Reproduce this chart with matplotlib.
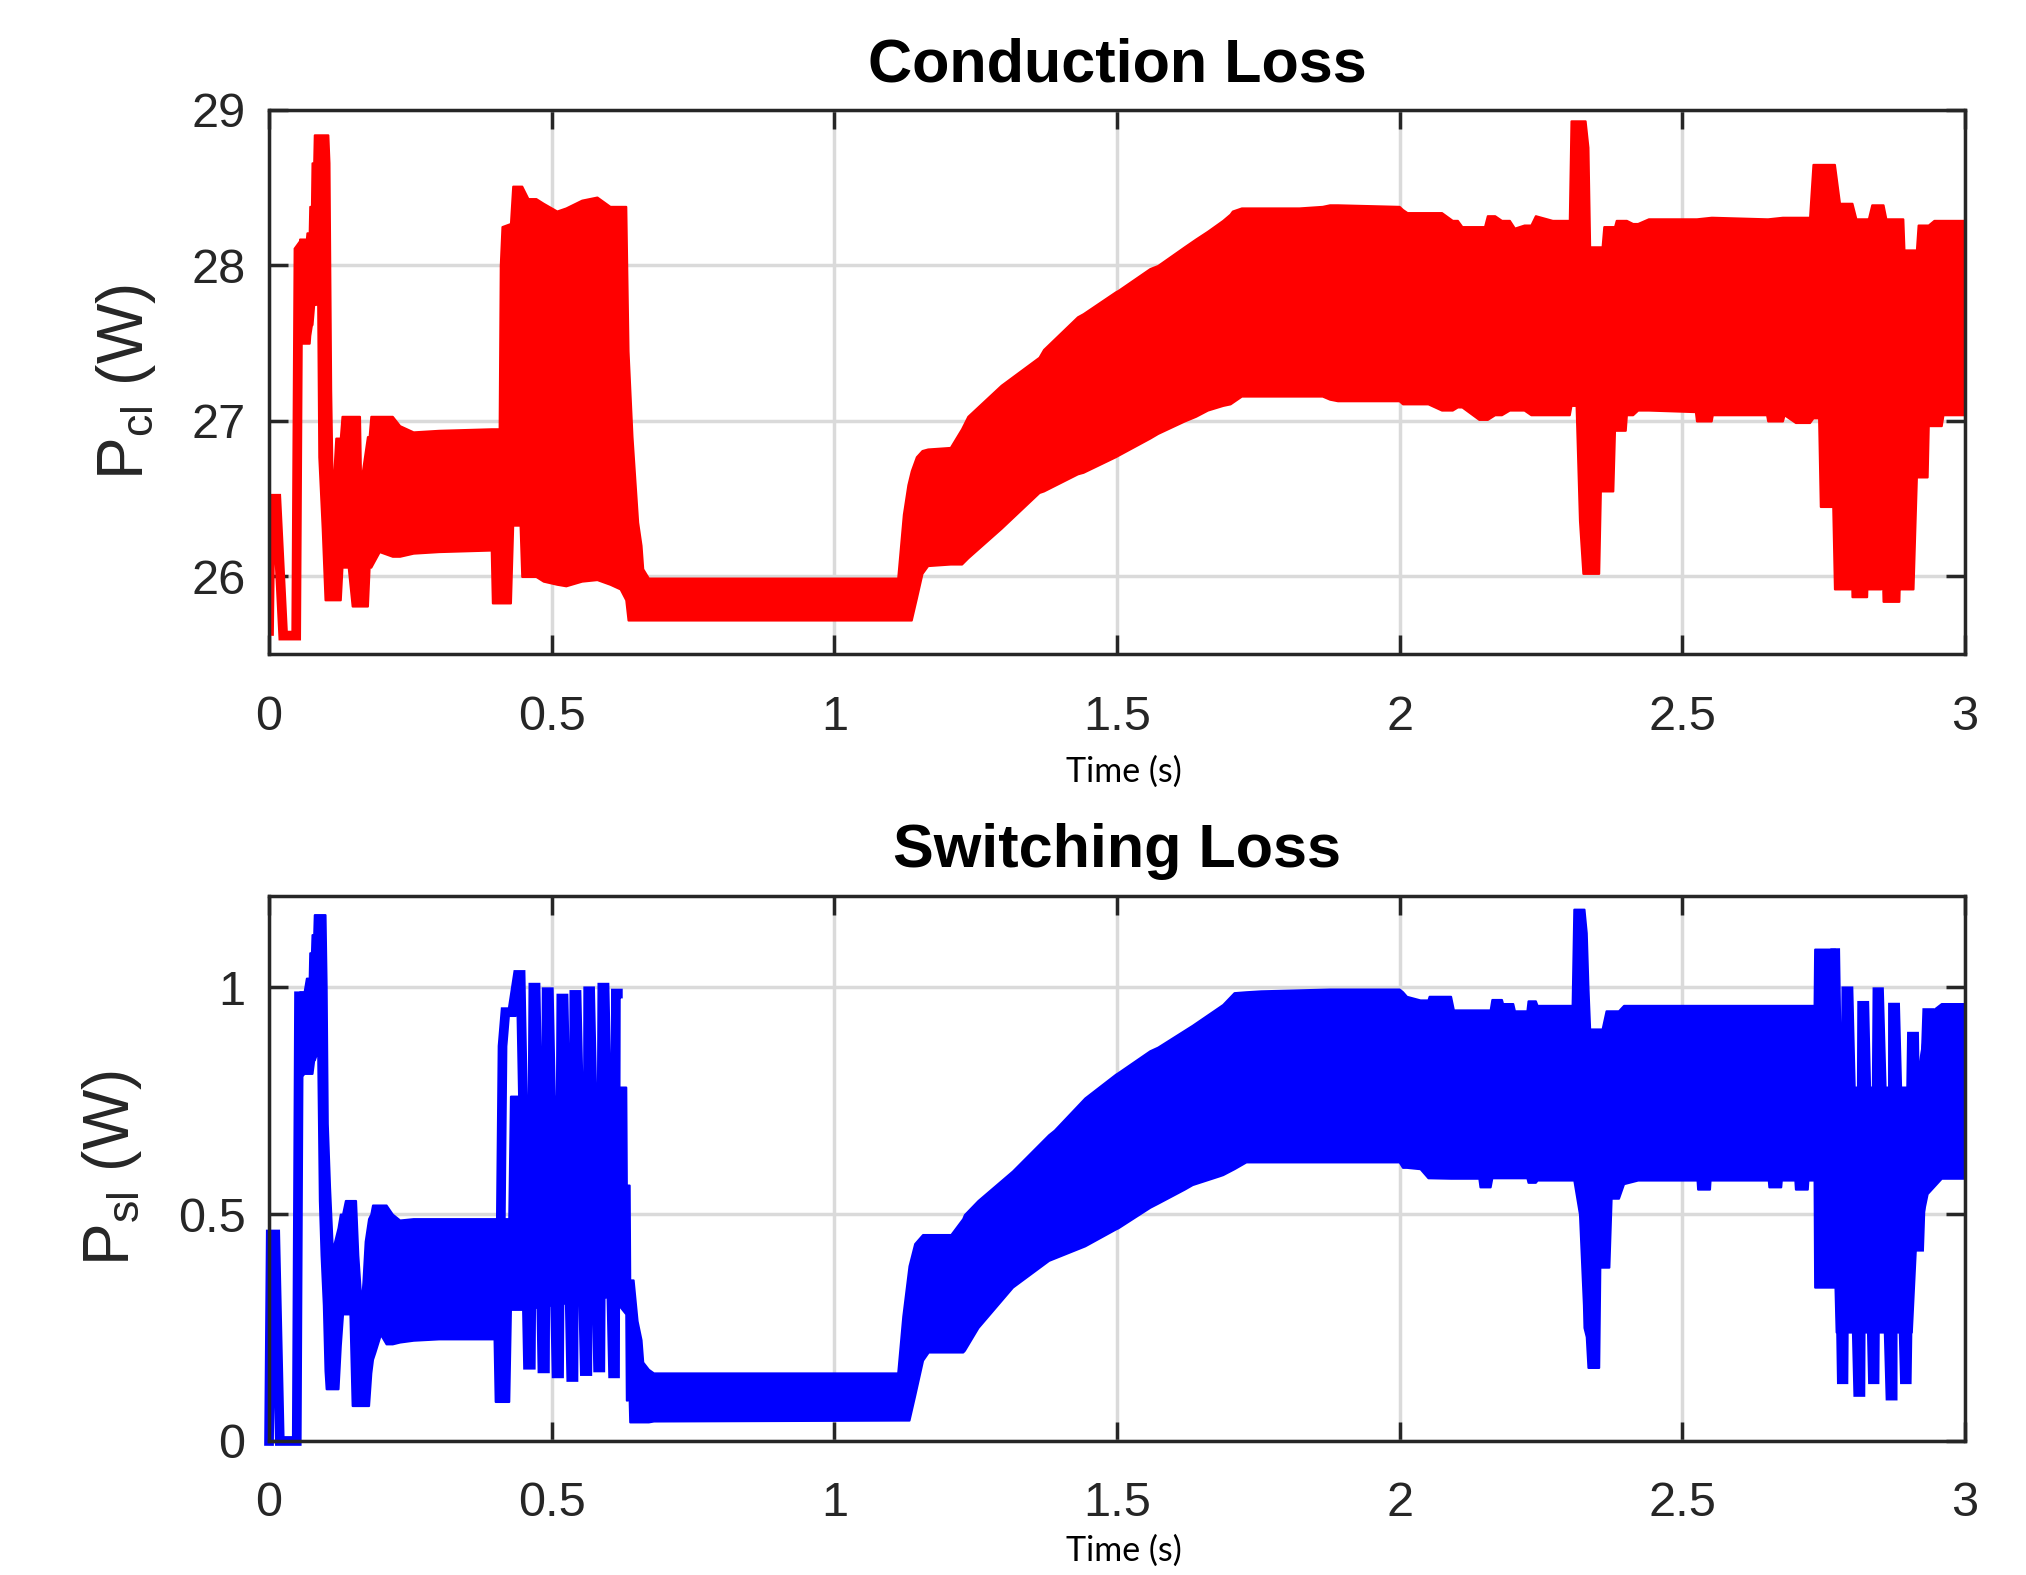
import matplotlib
matplotlib.use('Agg')
import matplotlib.pyplot as plt
import matplotlib.ticker as ticker

plt.rcParams['font.family'] = ['Liberation Sans', 'DejaVu Sans']
plt.rcParams['mathtext.default'] = 'regular'

# ---- conduction loss (top) ----
# start-up stroke, read as line centres
cl_line_t = [0.0, 0.003, 0.013, 0.025, 0.048, 0.052, 0.056]
cl_line_v = [25.65, 26.5, 26.5, 25.62, 25.62, 28.1, 28.12]

# ripple envelope, read as outer edges
cl_band_t = [0.054, 0.066, 0.067, 0.071, 0.072, 0.075, 0.076, 0.079, 0.080, 0.086,
             0.088, 0.094, 0.099, 0.104, 0.106, 0.109, 0.112, 0.118, 0.126, 0.129,
             0.140, 0.147, 0.160, 0.162, 0.170, 0.174, 0.177, 0.180, 0.195, 0.218,
             0.231, 0.255, 0.300, 0.393, 0.395, 0.407, 0.409, 0.412, 0.427, 0.431,
             0.444, 0.447, 0.458, 0.472, 0.485, 0.509, 0.525, 0.553, 0.580, 0.603,
             0.621, 0.631, 0.635, 0.642, 0.652, 0.658, 0.661, 0.671, 1.112, 1.122,
             1.130, 1.136, 1.145, 1.155, 1.165, 1.205, 1.225, 1.236, 1.295, 1.362,
             1.370, 1.430, 1.440, 1.497, 1.502, 1.558, 1.572, 1.619, 1.639, 1.660,
             1.687, 1.700, 1.704, 1.720, 1.822, 1.863, 1.876, 1.890, 1.999, 2.005,
             2.013, 2.050, 2.074, 2.093, 2.102, 2.110, 2.140, 2.150, 2.155, 2.168,
             2.180, 2.194, 2.203, 2.220, 2.232, 2.240, 2.270, 2.300, 2.303, 2.312,
             2.318, 2.324, 2.328, 2.333, 2.336, 2.352, 2.355, 2.358, 2.361, 2.377,
             2.380, 2.383, 2.399, 2.401, 2.412, 2.421, 2.440, 2.523, 2.525, 2.551,
             2.553, 2.649, 2.651, 2.677, 2.680, 2.700, 2.725, 2.731, 2.741, 2.744,
             2.766, 2.769, 2.778, 2.797, 2.799, 2.800, 2.807, 2.826, 2.828, 2.829,
             2.835, 2.851, 2.853, 2.855, 2.860, 2.883, 2.885, 2.886, 2.890, 2.892,
             2.908, 2.914, 2.917, 2.933, 2.935, 2.945, 2.958, 2.961, 3.000]
cl_band_lo = [27.50, 27.50, 27.50, 27.50, 27.55, 27.62, 27.62, 27.75, 27.75, 27.75,
              26.77, 26.31, 25.85, 25.85, 25.85, 25.85, 25.85, 25.85, 25.85, 26.06,
              26.06, 25.81, 25.81, 25.81, 25.81, 25.81, 26.06, 26.06, 26.16, 26.13,
              26.13, 26.15, 26.16, 26.17, 25.83, 25.83, 25.83, 25.83, 25.83, 26.33,
              26.33, 26.00, 26.00, 26.00, 25.97, 25.95, 25.94, 25.97, 25.98, 25.95,
              25.92, 25.85, 25.72, 25.72, 25.72, 25.72, 25.72, 25.72, 25.72, 25.72,
              25.72, 25.72, 25.86, 26.02, 26.07, 26.08, 26.08, 26.12, 26.31, 26.54,
              26.55, 26.66, 26.67, 26.77, 26.78, 26.89, 26.92, 27.00, 27.03, 27.07,
              27.10, 27.11, 27.12, 27.16, 27.16, 27.16, 27.14, 27.13, 27.13, 27.11,
              27.11, 27.11, 27.07, 27.07, 27.09, 27.09, 27.01, 27.01, 27.01, 27.04,
              27.04, 27.07, 27.07, 27.07, 27.04, 27.04, 27.04, 27.04, 27.10, 27.10,
              26.36, 26.02, 26.02, 26.02, 26.02, 26.02, 26.55, 26.55, 26.55, 26.55,
              26.94, 26.94, 26.94, 27.04, 27.04, 27.07, 27.07, 27.06, 27.00, 27.00,
              27.04, 27.04, 27.00, 27.00, 27.04, 26.99, 26.99, 27.02, 27.02, 26.45,
              26.45, 25.92, 25.92, 25.92, 26.15, 25.87, 25.87, 25.87, 26.15, 25.92,
              25.92, 25.92, 26.15, 25.84, 25.84, 25.84, 26.15, 25.92, 25.92, 25.92,
              25.92, 26.64, 26.64, 26.64, 26.97, 26.97, 26.97, 27.04, 27.04]
cl_band_hi = [28.17, 28.17, 28.21, 28.21, 28.38, 28.38, 28.66, 28.66, 28.84, 28.84,
              28.84, 28.84, 28.84, 28.84, 28.66, 27.20, 26.50, 26.89, 26.89, 27.03,
              27.03, 27.03, 27.03, 26.60, 26.80, 26.90, 26.90, 27.03, 27.03, 27.03,
              26.97, 26.93, 26.94, 26.95, 26.95, 26.95, 28.00, 28.25, 28.27, 28.51,
              28.51, 28.51, 28.43, 28.43, 28.40, 28.35, 28.37, 28.42, 28.44, 28.38,
              28.38, 28.38, 27.45, 26.90, 26.35, 26.20, 26.05, 25.99, 25.99, 26.40,
              26.59, 26.68, 26.77, 26.81, 26.82, 26.83, 26.95, 27.03, 27.23, 27.41,
              27.46, 27.67, 27.69, 27.83, 27.84, 27.98, 28.00, 28.12, 28.17, 28.22,
              28.29, 28.33, 28.35, 28.37, 28.37, 28.38, 28.39, 28.39, 28.38, 28.36,
              28.34, 28.34, 28.34, 28.29, 28.29, 28.25, 28.25, 28.25, 28.32, 28.32,
              28.29, 28.29, 28.24, 28.26, 28.26, 28.32, 28.29, 28.29, 28.93, 28.93,
              28.93, 28.93, 28.93, 28.76, 28.12, 28.12, 28.12, 28.12, 28.25, 28.25,
              28.25, 28.29, 28.29, 28.29, 28.27, 28.27, 28.30, 28.30, 28.30, 28.31,
              28.31, 28.30, 28.30, 28.31, 28.31, 28.31, 28.31, 28.65, 28.65, 28.65,
              28.65, 28.65, 28.40, 28.40, 28.40, 28.40, 28.30, 28.30, 28.30, 28.30,
              28.39, 28.39, 28.39, 28.39, 28.30, 28.30, 28.30, 28.30, 28.30, 28.10,
              28.10, 28.10, 28.26, 28.26, 28.26, 28.29, 28.29, 28.29, 28.29]

# ---- switching loss (bottom) ----
sl_line_t = [0.0, 0.003, 0.011, 0.019, 0.049, 0.053, 0.056]
sl_line_v = [0.0, 0.455, 0.455, 0.0, 0.0, 0.98, 0.98]

sl_band_t = [0.054, 0.062, 0.066, 0.071, 0.072, 0.075, 0.076, 0.079, 0.080, 0.086,
             0.089, 0.092, 0.096, 0.099, 0.101, 0.103, 0.107, 0.112, 0.118, 0.122,
             0.126, 0.130, 0.135, 0.143, 0.147, 0.153, 0.157, 0.163, 0.166, 0.170,
             0.176, 0.180, 0.183, 0.187, 0.197, 0.207, 0.218, 0.231, 0.255, 0.300,
             0.398, 0.400, 0.424, 0.427, 0.448, 0.612, 0.618, 0.631, 0.632, 0.637,
             0.638, 0.644, 0.651, 0.658, 0.661, 0.671, 0.680, 1.112, 1.121, 1.132,
             1.142, 1.156, 1.166, 1.206, 1.227, 1.230, 1.254, 1.315, 1.379, 1.389,
             1.443, 1.497, 1.502, 1.558, 1.572, 1.619, 1.633, 1.680, 1.687, 1.707,
             1.728, 1.754, 1.876, 1.999, 2.005, 2.012, 2.036, 2.050, 2.052, 2.090,
             2.095, 2.140, 2.142, 2.160, 2.163, 2.180, 2.182, 2.200, 2.203, 2.225,
             2.227, 2.240, 2.243, 2.305, 2.308, 2.318, 2.325, 2.326, 2.330, 2.333,
             2.336, 2.352, 2.354, 2.358, 2.365, 2.370, 2.374, 2.387, 2.396, 2.421,
             2.526, 2.527, 2.548, 2.549, 2.652, 2.653, 2.674, 2.675, 2.699, 2.700,
             2.721, 2.722, 2.733, 2.734, 2.770, 2.772, 2.905, 2.912, 2.933, 2.958,
             3.000]
sl_band_lo = [0.80, 0.81, 0.81, 0.81, 0.81, 0.81, 0.81, 0.84, 0.84, 0.86,
              0.53, 0.41, 0.30, 0.155, 0.115, 0.115, 0.115, 0.115, 0.115, 0.115,
              0.21, 0.28, 0.28, 0.28, 0.078, 0.078, 0.078, 0.078, 0.078, 0.078,
              0.078, 0.15, 0.18, 0.195, 0.235, 0.214, 0.214, 0.218, 0.222, 0.225,
              0.225, 0.087, 0.087, 0.29, 0.29, 0.32, 0.30, 0.28, 0.09, 0.091,
              0.042, 0.042, 0.042, 0.042, 0.042, 0.042, 0.044, 0.046, 0.046, 0.046,
              0.10, 0.178, 0.196, 0.196, 0.196, 0.20, 0.25, 0.339, 0.398, 0.403,
              0.43, 0.467, 0.47, 0.515, 0.524, 0.555, 0.565, 0.584, 0.587, 0.60,
              0.615, 0.615, 0.615, 0.615, 0.603, 0.603, 0.60, 0.58, 0.58, 0.579,
              0.579, 0.579, 0.56, 0.56, 0.58, 0.58, 0.58, 0.58, 0.58, 0.58,
              0.57, 0.57, 0.575, 0.575, 0.575, 0.50, 0.30, 0.25, 0.23, 0.162,
              0.162, 0.162, 0.383, 0.383, 0.383, 0.383, 0.535, 0.535, 0.567, 0.575,
              0.575, 0.555, 0.555, 0.575, 0.575, 0.56, 0.56, 0.575, 0.575, 0.555,
              0.555, 0.575, 0.575, 0.339, 0.339, 0.24, 0.24, 0.419, 0.545, 0.579,
              0.579]
sl_band_hi = [0.99, 0.99, 1.02, 1.02, 1.076, 1.076, 1.116, 1.116, 1.16, 1.16,
              1.16, 1.16, 1.16, 1.16, 1.0, 0.70, 0.56, 0.42, 0.45, 0.47,
              0.50, 0.50, 0.53, 0.53, 0.53, 0.53, 0.41, 0.30, 0.35, 0.44,
              0.49, 0.50, 0.52, 0.52, 0.52, 0.52, 0.50, 0.487, 0.49, 0.49,
              0.49, 0.49, 0.49, 0.76, 0.76, 0.76, 0.78, 0.78, 0.564, 0.564,
              0.355, 0.355, 0.265, 0.223, 0.174, 0.158, 0.15, 0.15, 0.275, 0.386,
              0.435, 0.455, 0.455, 0.455, 0.49, 0.499, 0.53, 0.595, 0.675, 0.685,
              0.756, 0.808, 0.812, 0.86, 0.868, 0.905, 0.916, 0.956, 0.962, 0.988,
              0.99, 0.992, 0.996, 0.996, 0.99, 0.98, 0.972, 0.972, 0.98, 0.98,
              0.95, 0.95, 0.95, 0.95, 0.973, 0.973, 0.964, 0.964, 0.948, 0.948,
              0.97, 0.97, 0.96, 0.96, 1.172, 1.172, 1.172, 1.172, 1.12, 1.0,
              0.908, 0.908, 0.908, 0.908, 0.948, 0.948, 0.948, 0.948, 0.96, 0.96,
              0.96, 0.96, 0.96, 0.96, 0.96, 0.96, 0.96, 0.96, 0.96, 0.96,
              0.96, 0.96, 0.96, 1.084, 1.084, 0.78, 0.78, 0.78, 0.94, 0.964,
              0.964]

# distinct switching spikes (line centres)
sl_spike1_t = [0.410, 0.413, 0.418, 0.430, 0.440, 0.445, 0.458, 0.463, 0.4675, 0.4715,
               0.4835, 0.488, 0.491, 0.495, 0.5085, 0.513, 0.517, 0.521, 0.5345, 0.5385,
               0.540, 0.544, 0.5585, 0.563, 0.5645, 0.568, 0.582, 0.586, 0.5895, 0.5935,
               0.6085, 0.612, 0.6135, 0.617]
sl_spike1_v = [0.49, 0.87, 0.945, 0.945, 1.027, 1.027, 0.168, 0.168, 0.999, 0.999,
               0.16, 0.16, 0.989, 0.989, 0.149, 0.149, 0.975, 0.975, 0.141, 0.141,
               0.983, 0.983, 0.154, 0.154, 0.991, 0.991, 0.162, 0.162, 0.999, 0.999,
               0.149, 0.149, 0.986, 0.986]

sl_spike2_t = [2.7705, 2.782, 2.785, 2.790, 2.794, 2.811, 2.815, 2.818, 2.822, 2.837,
               2.840, 2.845, 2.848, 2.868, 2.872, 2.8725, 2.8765, 2.8935, 2.897, 2.906,
               2.910, 2.916, 2.919, 2.933, 2.937]
sl_spike2_v = [1.075, 0.136, 0.136, 0.991, 0.991, 0.108, 0.108, 0.959, 0.959, 0.136,
               0.136, 0.989, 0.989, 0.10, 0.10, 0.955, 0.955, 0.136, 0.136, 0.891,
               0.891, 0.428, 0.428, 0.943, 0.943]

x_ticks = [0, 0.5, 1, 1.5, 2, 2.5, 3]
cl_ticks = [26, 27, 28, 29]
sl_ticks = [0, 0.5, 1]

DARK = '#262626'
LW = 7


def style_axes(ax, ylim, yticks, title, ylabel, xlabel_y):
    ax.set_xlim(0, 3)
    ax.set_ylim(*ylim)
    ax.set_xticks(x_ticks)
    ax.set_yticks(yticks)
    fmt = ticker.FuncFormatter(lambda v, p: f'{v:g}')
    ax.xaxis.set_major_formatter(fmt)
    ax.yaxis.set_major_formatter(fmt)

    ax.grid(True, color='#dadada', linewidth=2.5)
    ax.set_axisbelow(True)
    for sp in ax.spines.values():
        sp.set_linewidth(2.5)
        sp.set_color(DARK)
        sp.set_zorder(5)

    ax.tick_params(direction='in', length=14, width=2.5, colors=DARK,
                   labelsize=35, top=True, right=True)
    ax.tick_params(axis='x', pad=29)
    ax.tick_params(axis='y', pad=17)

    ax.set_title(title, fontsize=44, fontweight='bold', pad=20.5)
    ax.set_ylabel(ylabel, fontsize=46, color=DARK, labelpad=24)
    ax.set_xlabel('Time (s)', fontsize=24.5, family=['Lato', 'DejaVu Sans'])
    ax.xaxis.set_label_coords(0.504, xlabel_y)


fig = plt.figure(figsize=(20.26, 15.75), dpi=100)
ax1 = fig.add_axes([0.1328, 0.5846, 0.8371, 0.3456])
ax2 = fig.add_axes([0.1328, 0.0851, 0.8371, 0.3463])

# top panel
red = '#ff0000'
ax1.fill_between(cl_band_t, cl_band_lo, cl_band_hi, color=red, linewidth=1.5, zorder=3)
ax1.plot(cl_line_t, cl_line_v, color=red, lw=LW, solid_joinstyle='miter', zorder=3)
style_axes(ax1, (25.5, 29.0), cl_ticks, 'Conduction Loss', r'P$_{cl}$ (W)', -0.187)

# bottom panel
blue = '#0000ff'
ax2.fill_between(sl_band_t, sl_band_lo, sl_band_hi, color=blue, linewidth=1.5, zorder=3)
ax2.plot(sl_line_t, sl_line_v, color=blue, lw=LW, solid_joinstyle='miter',
         zorder=3, clip_on=False)
ax2.plot(sl_spike1_t, sl_spike1_v, color=blue, lw=LW, solid_joinstyle='miter', zorder=3)
ax2.plot(sl_spike2_t, sl_spike2_v, color=blue, lw=LW, solid_joinstyle='miter', zorder=3)
style_axes(ax2, (0, 1.202), sl_ticks, 'Switching Loss', r'P$_{sl}$ (W)', -0.172)

fig.savefig('out.png', dpi=100, facecolor='white')
